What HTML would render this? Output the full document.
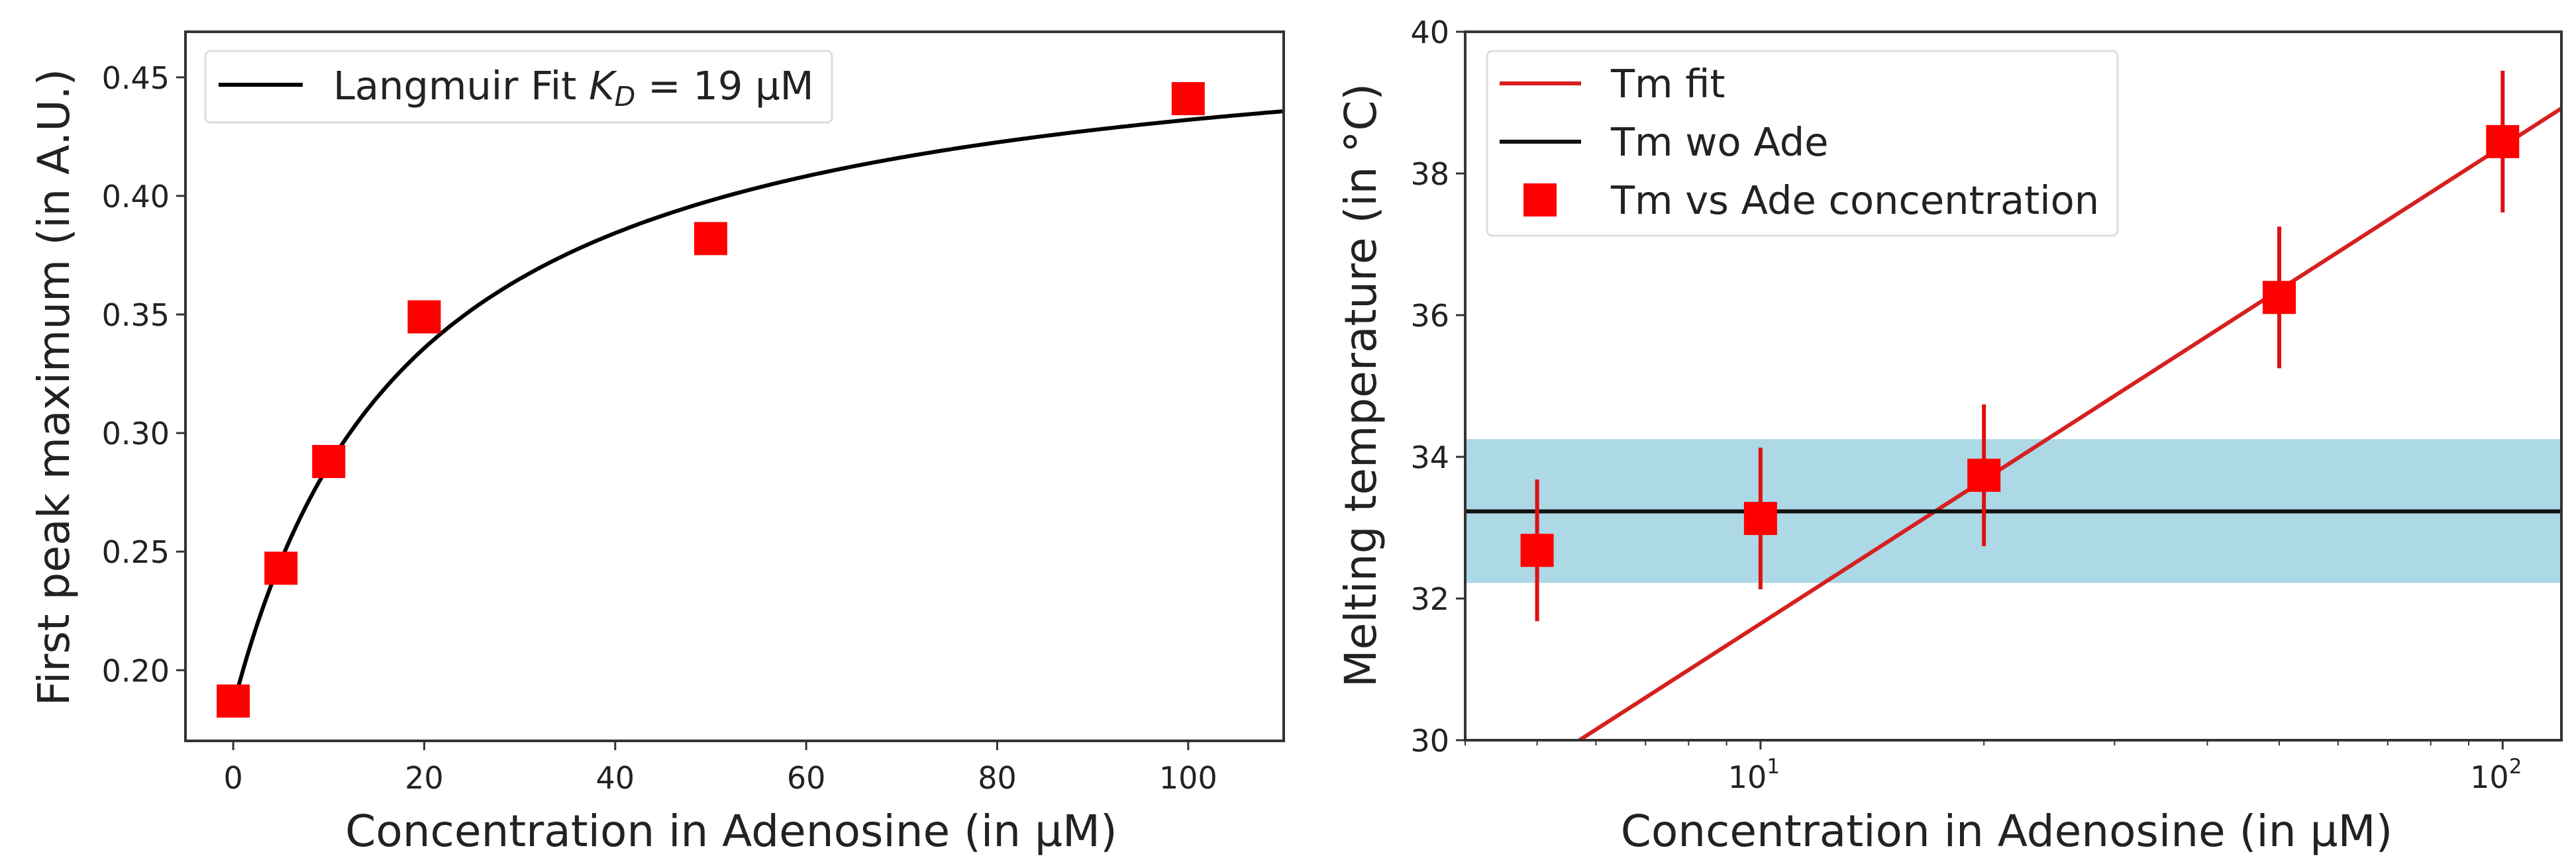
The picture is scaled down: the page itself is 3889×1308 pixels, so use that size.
<!DOCTYPE html>
<html><head><meta charset="utf-8"><style>
body{margin:0;background:#fff}
svg{display:block;font-family:"DejaVu Sans","Liberation Sans",sans-serif}
</style></head><body>
<svg id="fig" width="3889" height="1308" viewBox="0 0 3889 1308" xmlns="http://www.w3.org/2000/svg">
<rect width="3889" height="1308" fill="#fff"/>
<g id="left"></g>
<g id="right"></g>
</svg>
<script>
// Left chart data
const leftConc = [0, 5, 10, 20, 50, 100];
const leftPeak = [0.187, 0.243, 0.288, 0.349, 0.382, 0.441];
const leftXTicks = [0, 20, 40, 60, 80, 100];
const leftYTicks = [0.20, 0.25, 0.30, 0.35, 0.40, 0.45];
const langmuirParams = [0.185, 0.294, 19]; // base, amplitude, KD
// Right chart data
const rightConc = [5, 10, 20, 50, 100];
const rightTm = [32.68, 33.13, 33.74, 36.25, 38.45];
const rightErr = [1, 1, 1, 1, 1];
const rightYTicks = [30, 32, 34, 36, 38, 40];
const tmWoAde = [33.23];
const tmBand = [32.22, 34.25];
const tmFitParams = [30, 5.7, 6.74]; // T at x0, x0, slope per decade

const NS = "http://www.w3.org/2000/svg";
function mk(parent, tag, attrs, text){
  const e = document.createElementNS(NS, tag);
  for (const k in attrs) e.setAttribute(k, attrs[k]);
  if (text !== undefined) e.textContent = text;
  parent.appendChild(e);
  return e;
}

// ---------- LEFT ----------
const L = document.getElementById('left');
const lx0=280, lx1=1938, ly0=48, ly1=1119;
const lxMin=-5, lxMax=110, lyMin=0.1702, lyMax=0.4692;
const lsx = v => lx0 + (v - lxMin) / (lxMax - lxMin) * (lx1 - lx0);
const lsy = v => ly1 - (v - lyMin) / (lyMax - lyMin) * (ly1 - ly0);

let pts = [];
for (let i = 0; i <= 220; i++) {
  const x = i * 110 / 220;
  const y = langmuirParams[0] + langmuirParams[1] * x / (langmuirParams[2] + x);
  pts.push(lsx(x).toFixed(1) + ',' + lsy(y).toFixed(1));
}
let e = mk(L, 'polyline', {points: pts.join(' '), fill: 'none', stroke: '#000', 'stroke-width': 6});



leftConc.forEach((c, i) => {
  const r = mk(L, 'rect', {x: lsx(c) - 25, y: lsy(leftPeak[i]) - 25, width: 50, height: 50, fill: '#ff0000'});
  
  
});

e = mk(L, 'rect', {x: lx0, y: ly0, width: lx1 - lx0, height: ly1 - ly0, fill: 'none', stroke: '#333', 'stroke-width': 4});



leftXTicks.forEach(t => {
  mk(L, 'line', {x1: lsx(t), x2: lsx(t), y1: ly1, y2: ly1 + 14, stroke: '#333', 'stroke-width': 3});
  const tx = mk(L, 'text', {x: lsx(t), y: ly1 + 72, 'font-size': 46, 'text-anchor': 'middle', fill: '#222'}, String(t));
  
  
});
leftYTicks.forEach(t => {
  mk(L, 'line', {x1: lx0 - 14, x2: lx0, y1: lsy(t), y2: lsy(t), stroke: '#333', 'stroke-width': 3});
  const tx = mk(L, 'text', {x: lx0 - 24, y: lsy(t) + 17, 'font-size': 46, 'text-anchor': 'end', fill: '#222'}, t.toFixed(2));
  
  
});
e = mk(L, 'text', {x: (lx0 + lx1) / 2 - 5, y: 1278, 'font-size': 66, 'text-anchor': 'middle', fill: '#222'}, 'Concentration in Adenosine (in µM)');


e = mk(L, 'text', {x: 0, y: 0, 'font-size': 66, 'text-anchor': 'middle', fill: '#222', transform: 'translate(104,585) rotate(-90)'}, 'First peak maximum (in A.U.)');



const lg = mk(L, 'g', {});


mk(lg, 'rect', {x: 310, y: 77, width: 946, height: 108, rx: 8, fill: '#fff', 'fill-opacity': 0.85, stroke: '#ddd', 'stroke-width': 3});
mk(lg, 'line', {x1: 330, x2: 457, y1: 128, y2: 128, stroke: '#000', 'stroke-width': 6});
const lt = mk(lg, 'text', {x: 503, y: 150, 'font-size': 59, fill: '#222'});


mk(lt, 'tspan', {}, 'Langmuir Fit ');
mk(lt, 'tspan', {'font-style': 'italic'}, 'K');
mk(lt, 'tspan', {'font-style': 'italic', 'font-size': 41, dy: 10}, 'D');
mk(lt, 'tspan', {dy: -10}, ' = 19 µM');

// ---------- RIGHT ----------
const R = document.getElementById('right');
const rx0=2212, rx1=3867, ry0=48, ry1=1118;
const rlMin=Math.log10(4), rlMax=Math.log10(120);
const rsx = v => rx0 + (Math.log10(v) - rlMin) / (rlMax - rlMin) * (rx1 - rx0);
const rsy = v => ry1 - (v - 30) / 10 * (ry1 - ry0);

e = mk(R, 'rect', {x: rx0, y: rsy(tmBand[1]), width: rx1 - rx0, height: rsy(tmBand[0]) - rsy(tmBand[1]), fill: '#add8e6'});



const fitY = x => tmFitParams[0] + tmFitParams[2] * (Math.log10(x) - Math.log10(tmFitParams[1]));
e = mk(R, 'line', {x1: rsx(tmFitParams[1]), y1: rsy(fitY(tmFitParams[1])), x2: rsx(120), y2: rsy(fitY(120)), stroke: '#d62020', 'stroke-width': 6});



e = mk(R, 'line', {x1: rx0, x2: rx1, y1: rsy(tmWoAde[0]), y2: rsy(tmWoAde[0]), stroke: '#111', 'stroke-width': 6});



rightConc.forEach((c, i) => {
  const b = mk(R, 'line', {x1: rsx(c), x2: rsx(c), y1: rsy(rightTm[i] - rightErr[i]), y2: rsy(rightTm[i] + rightErr[i]), stroke: '#e01010', 'stroke-width': 6});
  
  
  const r = mk(R, 'rect', {x: rsx(c) - 25, y: rsy(rightTm[i]) - 25, width: 50, height: 50, fill: '#ff0000'});
  
  
});

e = mk(R, 'rect', {x: rx0, y: ry0, width: rx1 - rx0, height: ry1 - ry0, fill: 'none', stroke: '#333', 'stroke-width': 4});



for (let d = 1; d <= 100; d *= 10) {
  for (let m = 1; m <= 9; m++) {
    const v = d * m;
    if (v < 4 || v > 120) continue;
    const major = (m === 1);
    mk(R, 'line', {x1: rsx(v), x2: rsx(v), y1: ry1, y2: ry1 + (major ? 14 : 8), stroke: '#333', 'stroke-width': major ? 3 : 2});
    if (major) {
      const tx = mk(R, 'text', {x: rsx(v) - 10, y: ry1 + 72, 'font-size': 46, 'text-anchor': 'middle', fill: '#222'});
      
      
      mk(tx, 'tspan', {}, '10');
      mk(tx, 'tspan', {'font-size': 31, dy: -22}, String(Math.log10(v)));
    }
  }
}
rightYTicks.forEach(t => {
  mk(R, 'line', {x1: rx0 - 14, x2: rx0, y1: rsy(t), y2: rsy(t), stroke: '#333', 'stroke-width': 3});
  const tx = mk(R, 'text', {x: rx0 - 24, y: rsy(t) + 17, 'font-size': 46, 'text-anchor': 'end', fill: '#222'}, String(t));
  
  
});
e = mk(R, 'text', {x: (rx0 + rx1) / 2 - 10, y: 1278, 'font-size': 66, 'text-anchor': 'middle', fill: '#222'}, 'Concentration in Adenosine (in µM)');


e = mk(R, 'text', {x: 0, y: 0, 'font-size': 66, 'text-anchor': 'middle', fill: '#222', transform: 'translate(2077,582) rotate(-90)'}, 'Melting temperature (in °C)');



const rg = mk(R, 'g', {});


mk(rg, 'rect', {x: 2245, y: 77, width: 952, height: 279, rx: 8, fill: '#fff', 'fill-opacity': 0.85, stroke: '#ddd', 'stroke-width': 3});
const rEntries = ['Tm fit', 'Tm wo Ade', 'Tm vs Ade concentration'];
const rys = [126, 214, 302];
mk(rg, 'line', {x1: 2264, x2: 2387, y1: rys[0], y2: rys[0], stroke: '#d62020', 'stroke-width': 6});
mk(rg, 'line', {x1: 2264, x2: 2387, y1: rys[1], y2: rys[1], stroke: '#111', 'stroke-width': 6});
mk(rg, 'rect', {x: 2300, y: rys[2] - 25, width: 50, height: 50, fill: '#ff0000'});
rEntries.forEach((t, i) => {
  const tx = mk(rg, 'text', {x: 2432, y: rys[i] + 21, 'font-size': 59, fill: '#222'}, t);
  
  
});
</script>
</body></html>
